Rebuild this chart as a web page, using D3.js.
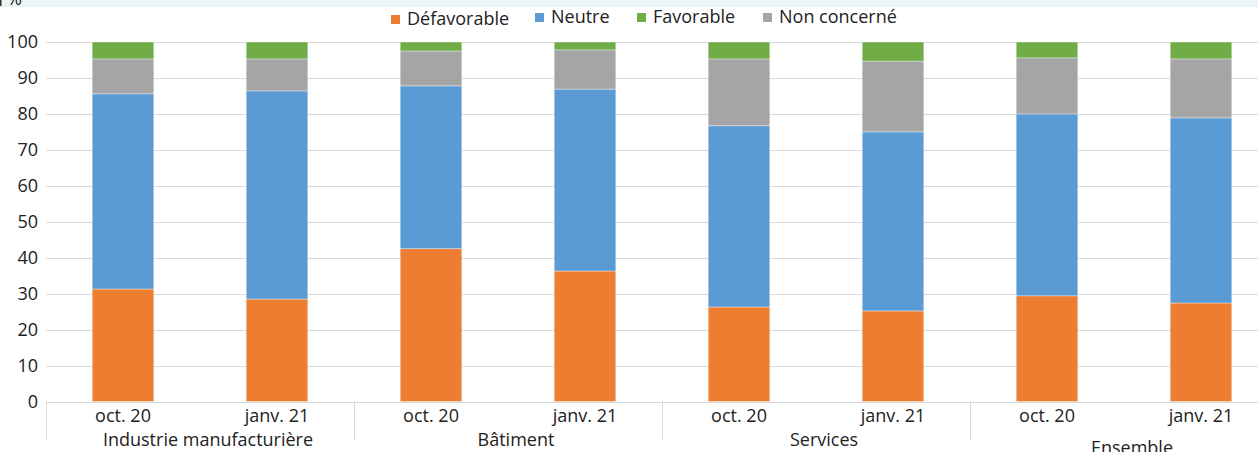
<!DOCTYPE html>
<html>
<head>
<meta charset="utf-8">
<script src="https://cdn.jsdelivr.net/npm/d3@7"></script>
<style>
  html, body { margin: 0; padding: 0; background: #fff; }
  svg { display: block; font-family: "Open Sans", "Noto Sans", sans-serif; }
</style>
</head>
<body>
<svg id="chart" width="1258" height="452"></svg>
<script>
// ---- data ----
const groups = ["Industrie manufacturière", "Bâtiment", "Services", "Ensemble"];
const periods = ["oct. 20", "janv. 21"];
const seriesNames = ["Défavorable", "Neutre", "Favorable", "Non concerné"];
const stackOrder = ["Défavorable", "Neutre", "Non concerné", "Favorable"];
const defavorable = [31.3, 28.5, 42.5, 36.3, 26.3, 25.2, 29.4, 27.4];
const neutre      = [54.3, 57.9, 45.3, 50.6, 50.4, 49.8, 50.6, 51.5];
const nonConcerne = [9.7, 8.9, 9.7, 10.9, 18.6, 19.7, 15.6, 16.4];
const favorable   = [4.7, 4.7, 2.5, 2.2, 4.7, 5.3, 4.4, 4.7];
const yTicks = [0, 10, 20, 30, 40, 50, 60, 70, 80, 90, 100];
const unitLabel = "%";

(function () {
const FS = 18;
const colors = {
  "Défavorable": "#ed7d31",
  "Neutre": "#5b9bd5",
  "Favorable": "#70ad47",
  "Non concerné": "#a5a5a5"
};
const valuesBySeries = {
  "Défavorable": defavorable,
  "Neutre": neutre,
  "Non concerné": nonConcerne,
  "Favorable": favorable
};

// build rows
const rows = [];
groups.forEach((g, gi) => periods.forEach((p, pi) => {
  const i = gi * periods.length + pi;
  const row = { key: g + "|" + p, group: g, period: p };
  seriesNames.forEach(s => row[s] = valuesBySeries[s][i]);
  rows.push(row);
}));

const svg = d3.select("#chart");
const W = 1258, H = 452;
const mLeft = 46, mRight = 1278, mTop = 42, mBottom = 401.5;

// top band
svg.append("rect").attr("x", 0).attr("y", 0).attr("width", W).attr("height", 7).attr("fill", "#ebf4f6");
svg.append("rect").attr("x", 0).attr("y", 0).attr("width", 1.5).attr("height", 6).attr("fill", "#333");
svg.append("text").attr("x", 7).attr("y", 5).attr("font-size", FS).attr("fill", "#222").text(unitLabel);

const x = d3.scaleBand().domain(rows.map(r => r.key)).range([mLeft, mRight])
  .paddingInner(0.6).paddingOuter(0.3);
const y = d3.scaleLinear().domain([0, 100]).range([mBottom, mTop]);

// gridlines
svg.append("g").selectAll("line").data(yTicks.filter(t => t > 0)).join("line")
  .attr("x1", mLeft).attr("x2", W)
  .attr("y1", d => Math.round(y(d)) + 0.5).attr("y2", d => Math.round(y(d)) + 0.5)
  .attr("stroke", "#d9d9d9").attr("stroke-width", 1);

// y labels
const yAxis = d3.axisLeft(y).tickValues(yTicks).tickSize(0).tickPadding(0);
const gy = svg.append("g").attr("transform", `translate(38,0)`).call(yAxis);
gy.select(".domain").remove();
gy.selectAll("text").attr("font-size", FS).attr("fill", "#222")
  .attr("font-family", "'Open Sans', sans-serif");

// stacked bars
const stack = d3.stack().keys(stackOrder);
const layers = stack(rows);
svg.append("g").selectAll("g").data(layers).join("g")
  .attr("fill", d => colors[d.key])
  .selectAll("rect").data(d => d).join("rect")
  .attr("x", d => x(d.data.key))
  .attr("width", x.bandwidth())
  .attr("y", d => y(d[1]))
  .attr("height", d => y(d[0]) - y(d[1]))
  .attr("stroke", "#ffffff").attr("stroke-opacity", 0.45).attr("stroke-width", 0.8);

// x axis line
svg.append("line").attr("x1", mLeft).attr("x2", W)
  .attr("y1", Math.round(mBottom) + 0.5).attr("y2", Math.round(mBottom) + 0.5)
  .attr("stroke", "#d9d9d9");

// period tick labels
const xAxis = d3.axisBottom(x).tickSize(0).tickPadding(0).tickFormat(k => k.split("|")[1]);
const gx = svg.append("g").attr("transform", `translate(0,${mBottom})`).call(xAxis);
gx.select(".domain").remove();
gx.selectAll("text").attr("font-size", FS).attr("fill", "#222").attr("dy", null).attr("y", 20)
  .attr("font-family", "'Open Sans', sans-serif");

// group separators and labels
const step = x.step();
const groupStart = g => x(g + "|" + periods[0]) - x.paddingOuter() * step;
const groupWidth = step * periods.length;
svg.append("g").selectAll("line").data(groups).join("line")
  .attr("x1", g => Math.round(groupStart(g)) + 0.5).attr("x2", g => Math.round(groupStart(g)) + 0.5)
  .attr("y1", mBottom).attr("y2", 440)
  .attr("stroke", "#d9d9d9");
svg.append("g").selectAll("text").data(groups).join("text")
  .attr("x", g => groupStart(g) + groupWidth / 2 + 8)
  .attr("y", (g, i) => i === 3 ? 454 : 446)
  .attr("text-anchor", "middle").attr("font-size", FS).attr("fill", "#222")
  .text(g => g);

// legend
const legendItems = [
  { name: "Défavorable", x: 391, dy: 2 },
  { name: "Neutre", x: 535, dy: 0 },
  { name: "Favorable", x: 637, dy: 0 },
  { name: "Non concerné", x: 763, dy: 0 }
];
const lg = svg.append("g").selectAll("g").data(legendItems).join("g")
  .attr("transform", d => `translate(${d.x},${d.dy})`);
lg.append("rect").attr("x", 0).attr("y", 13).attr("width", 9).attr("height", 9)
  .attr("fill", d => colors[d.name]);
lg.append("text").attr("x", 16).attr("y", 23).attr("font-size", FS).attr("fill", "#222")
  .text(d => d.name);
})();
</script>
</body>
</html>
